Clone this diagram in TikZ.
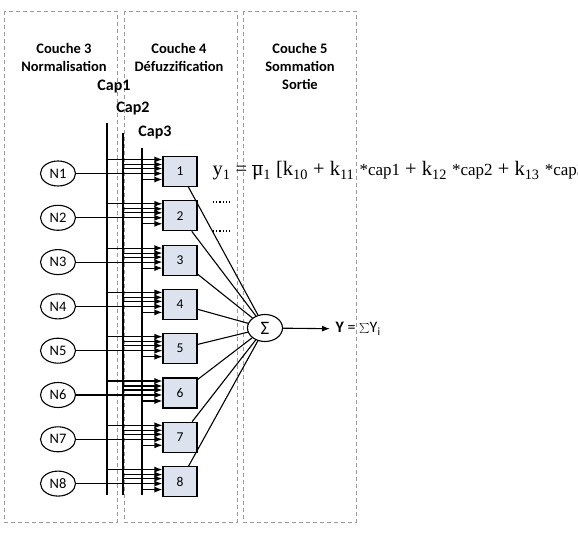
\documentclass[tikz,border=0pt]{standalone}
\usepackage{fontspec}
\setmainfont{Carlito}
\newfontfamily\eqfont{Liberation Serif}
\usetikzlibrary{shapes,arrows.meta,positioning,calc}

\definecolor{rulefill}{HTML}{DCE3EF}
\definecolor{layergray}{HTML}{9A9A9A}
\newcommand{\capv}[1]{{\fontsize{17}{17}\selectfont *cap#1}}

\begin{document}
\begin{tikzpicture}[
    x=1pt, y=-1pt,
    node distance=44.3pt,
    line width=1.1pt,
    layer/.style={draw=layergray, line width=0.8pt, dash pattern=on 4pt off 3pt},
    title/.style={align=center, font=\fontsize{14.5}{18}\selectfont\bfseries},
    caplabel/.style={font=\fontsize{16}{16}\selectfont\bfseries},
    norm/.style={ellipse, draw, minimum width=35pt, minimum height=25pt, inner sep=0pt, font=\fontsize{14.5}{14.5}\selectfont},
    rule/.style={rectangle, draw, fill=rulefill, minimum width=34pt, minimum height=30pt, inner sep=0pt, font=\fontsize{13.5}{13.5}\selectfont},
    bus/.style={line width=1.3pt},
    arrow/.style={-{Latex[length=8pt,width=6pt]}}
]
\useasboundingbox (0,0) rectangle (578,534);

% Layers
\draw[layer] (4,11) rectangle (117,522);
\draw[layer] (124,11) rectangle (237,522);
\draw[layer] (243,11) rectangle (356,522);
\node[title] (t3) at (64,57) {Couche 3\\Normalisation};
\node[title] (t4) at (179,57) {Couche 4\\Défuzzification};
\node[title] (t5) at (300,66) {Couche 5\\Sommation\\Sortie};

% Inputs cap1..cap3
\node[caplabel] (c1) at (114,87) {Cap1};
\node[caplabel] (c2) at (133,109) {Cap2};
\node[caplabel] (c3) at (155,133) {Cap3};
\coordinate (cap1top) at (107,123);
\coordinate (cap1bot) at (107,495);
\coordinate (cap2top) at (123,133);
\coordinate (cap2bot) at (123,495);
\coordinate (cap3top) at (142,148);
\coordinate (cap3bot) at (142,495);
\draw[bus] (cap1top) -- (cap1bot);
\draw[bus] (cap2top) -- (cap2bot);
\draw[bus] (cap3top) -- (cap3bot);

% Normalised weights
\node[norm] (n1) at (58,173.5) {N1};
\node[norm, below of=n1] (n2) {N2};
\node[norm, below of=n2] (n3) {N3};
\node[norm, below of=n3] (n4) {N4};
\node[norm, below of=n4] (n5) {N5};
\node[norm, below of=n5] (n6) {N6};
\node[norm, below of=n6] (n7) {N7};
\node[norm, below of=n7] (n8) {N8};

% Rules
\node[rule] (r1) at (180,171.5) {1};
\node[rule, below of=r1] (r2) {2};
\node[rule, below of=r2] (r3) {3};
\node[rule, below of=r3] (r4) {4};
\node[rule, below of=r4] (r5) {5};
\node[rule, below of=r5] (r6) {6};
\node[rule, below of=r6] (r7) {7};
\node[rule, below of=r7] (r8) {8};

% Sum and output
\node[ellipse, draw, minimum width=35pt, minimum height=27pt, inner sep=0pt, font=\fontsize{19}{19}\selectfont] (sum) at (265,328) {Σ};
\node[anchor=west, inner xsep=5pt, font=\fontsize{16}{16}\selectfont] (out) at (330,329) {\textbf{Y} = $\sum$Y\textsubscript{i}};
\node[anchor=base west, inner sep=0pt] (eq) at (212,176) {\eqfont\fontsize{20.5}{20.5}\selectfont
  y\textsubscript{1} = $\overline{\mbox{μ}}$\textsubscript{1} [k\textsubscript{10} + k\textsubscript{11} \capv{1} + k\textsubscript{12} \capv{2} + k\textsubscript{13} \capv{3}};
\draw[dotted, line width=1.2pt] (213,202) -- (232,202);
\draw[dotted, line width=1.2pt] (213,231) -- (232,231);

% Arrows
\foreach \i in {1,...,8}{
  \path (r\i.west) ++(0,-12) coordinate (p1) ++(0,5) coordinate (p2) ++(0,4) coordinate (p3) ++(0,11) coordinate (p4);
  \draw[arrow] (cap1top |- p1) -- (p1);
  \draw[arrow] (cap2top |- p2) -- (p2);
  \draw[arrow] (cap2top |- p3) -- (p3);
  \draw[arrow] (cap3top |- p4) -- (p4);
  \draw[arrow] (n\i) -- (n\i -| r\i.west);
  \draw (r\i) -- (sum);
}
\draw[arrow] (sum) -- (out);
\end{tikzpicture}
\end{document}
